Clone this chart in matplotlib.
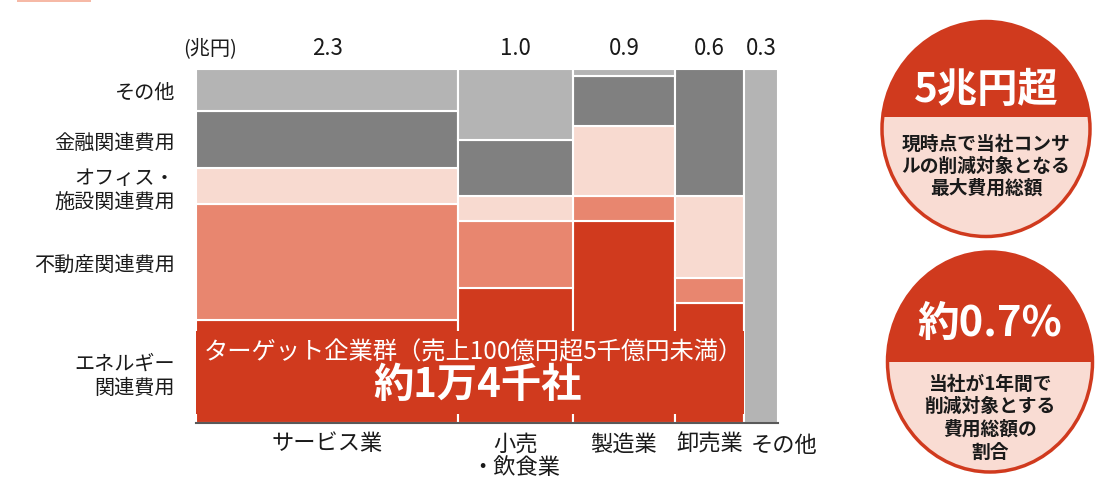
import matplotlib
matplotlib.use("Agg")
import matplotlib.pyplot as plt
from matplotlib.patches import Rectangle, Ellipse
import numpy as np

plt.rcParams['font.family'] = ['Noto Sans CJK JP', 'DejaVu Sans']

# ---- data -------------------------------------------------------------
industries = ["サービス業", "小売\n・飲食業", "製造業", "卸売業", "その他"]
totals = [2.3, 1.0, 0.9, 0.6, 0.3]          # 兆円 (column widths)
total_labels = ["2.3", "1.0", "0.9", "0.6", "0.3"]

cost_items = ["エネルギー\n関連費用", "不動産関連費用", "オフィス・\n施設関連費用",
              "金融関連費用", "その他"]
# share (%) of each cost item inside each industry, stacked bottom -> top
energy = [29, 38, 57, 34, 0]
real_estate = [33, 19, 7, 7, 0]
office = [10, 7, 20, 23, 0]
finance = [16, 16, 14, 36, 0]
other_cost = [12, 20, 2, 0, 100]
shares = [energy, real_estate, office, finance, other_cost]

colors = ["#D03A1E", "#E8866F", "#F8DAD0", "#808080", "#B4B4B4"]
RED = "#D03A1E"
PINK = "#F9DCD3"
TEXT = "#1a1a1a"

W, H = 1095, 481
fig = plt.figure(figsize=(W / 100, H / 100), dpi=100)

# ---- marimekko -------------------------------------------------------
ax = fig.add_axes([196 / W, 1 - 424 / H, 582 / W, 354 / H])
widths = np.array(totals)
lefts = np.concatenate([[0], np.cumsum(widths)[:-1]])
bottoms = np.zeros(len(totals))
for vals, col in zip(shares, colors):
    frac = np.array(vals) / 100.0
    m = frac > 0
    ax.bar(lefts[m], frac[m], width=widths[m], bottom=bottoms[m], align='edge',
           color=col, edgecolor='white', linewidth=1.5, zorder=2)
    bottoms += frac

ax.set_xlim(0, widths.sum())
ax.set_ylim(0, 1)

# red band behind the headline text
band_w = widths[:4].sum()
ax.add_patch(Rectangle((0, 0.025), band_w, 0.235, facecolor=RED,
                       edgecolor='none', zorder=3))
ax.text(0.476, 0.203, "ターゲット企業群（売上100億円超5千億円未満）",
        transform=ax.transAxes, ha='center', va='center', color='white',
        fontsize=17.5, zorder=4)
ax.text(0.483, 0.108, "約1万4千社", transform=ax.transAxes, ha='center',
        va='center', color='white', fontsize=29, fontweight='bold', zorder=4)

# y tick labels at the centres of the first column's segments
svc = np.array([s[0] for s in shares]) / 100.0
svc_centres = np.cumsum(svc) - svc / 2
ax.set_yticks(svc_centres)
ax.set_yticklabels(cost_items, fontsize=14.5, color=TEXT, linespacing=1.15)
ax.tick_params(axis='y', length=0, pad=15)

# x tick labels at column centres ("その他" sits just right of its column)
centres = lefts + widths / 2
ax.set_xticks(centres[:4])
ax.set_xticklabels(industries[:4], fontsize=16, color=TEXT, linespacing=1.05)
ax.tick_params(axis='x', length=0, pad=6)
ax.text(lefts[4] + 0.06, -0.06, industries[4], ha='left', va='center',
        fontsize=16, color=TEXT, transform=ax.get_xaxis_transform())

# totals above each column
for c, lab in zip(centres, total_labels):
    ax.text(c, 1.06, lab, ha='center', va='center', fontsize=16, color=TEXT,
            transform=ax.get_xaxis_transform())
ax.text(0.024, 1.06, "(兆円)", ha='center', va='center', fontsize=14.5,
        color=TEXT, transform=ax.transAxes)

for s in ['top', 'right', 'left']:
    ax.spines[s].set_visible(False)
ax.spines['bottom'].set_color('#595959')
ax.spines['bottom'].set_linewidth(1.5)
ax.spines['bottom'].set_zorder(5)

# ---- callout badges (pixel coordinates) -------------------------------
ov = fig.add_axes([0, 0, 1, 1], zorder=10)
ov.set_xlim(0, W)
ov.set_ylim(H, 0)
ov.axis('off')

ov.add_patch(Rectangle((17, 0), 74, 3, facecolor="#F6B9A6", edgecolor='none'))


def badge(cx, cy, w, h, split_y, big, big_y, lines, line_ys, big_size):
    body = Ellipse((cx, cy), w, h, facecolor=PINK, edgecolor='none')
    ov.add_patch(body)
    cap = Rectangle((cx - w, cy - h), 2 * w, split_y - (cy - h),
                    facecolor=RED, edgecolor='none')
    ov.add_patch(cap)
    cap.set_clip_path(body)
    ov.add_patch(Ellipse((cx, cy), w, h, facecolor='none', edgecolor=RED,
                         linewidth=2.5))
    ov.text(cx, big_y, big, ha='center', va='center', color='white',
            fontsize=big_size, fontweight='bold')
    for t, y in zip(lines, line_ys):
        ov.text(cx, y, t, ha='center', va='center', color=TEXT, fontsize=13.5,
                fontweight='bold')


badge(986, 130, 208, 215, 118, "5兆円超", 91,
      ["現時点で当社コンサ", "ルの削減対象となる", "最大費用総額"],
      [144, 166, 188], 29)
badge(990, 363, 205, 220, 363, "約0.7%", 324,
      ["当社が1年間で", "削減対象とする", "費用総額の", "割合"],
      [384, 406, 429, 452], 30)

fig.savefig("out.png", dpi=100)
